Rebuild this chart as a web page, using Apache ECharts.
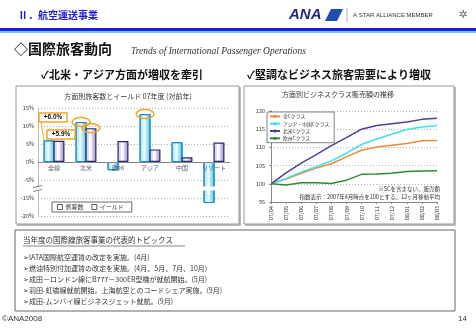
<!DOCTYPE html>
<html>
<head>
<meta charset="utf-8">
<title>国際旅客動向</title>
<script src="https://cdn.jsdelivr.net/npm/echarts@6.0.0/dist/echarts.min.js"></script>
<style>
html, body { margin: 0; padding: 0; background: #fff; }
#main { width: 476px; height: 330px; }
</style>
</head>
<body>
<div id="main"></div>
<script>
// left: 方面別旅客数とイールド 07年度 (対前年, %)
var barCats = ['全線', '北米', '欧州', 'アジア', '中国', 'リゾート'];
var paxGrowth = [6.0, 11.1, -2.3, 13.3, 5.5, -16.4];
var yieldGrowth = [5.9, 9.4, 5.8, 3.5, 1.3, 5.4];

// right: 方面別ビジネスクラス販売額の推移 (2007/04 = 100)
var months = ['07/04', '07/05', '07/06', '07/07', '07/08', '07/09', '07/10', '07/11', '07/12', '08/01', '08/02', '08/03'];
var allC = [100, 101.3, 102.9, 104.3, 105.5, 107.4, 109.2, 110.1, 110.6, 111.1, 111.8, 111.9];
var asiaC = [100, 101.5, 103.2, 104.7, 106.3, 108.4, 110.8, 112.3, 113.6, 114.9, 115.6, 116.0];
var naC = [100, 103.0, 105.7, 108.0, 110.5, 112.7, 115.0, 116.0, 116.5, 117.0, 117.7, 118.0];
var euC = [100, 99.7, 100.3, 100.3, 100.1, 101.0, 102.6, 102.7, 102.9, 103.4, 103.5, 103.6];

var topics = [
    '➢IATA国際航空運賃の改定を実施。(4月)',
    '➢燃油特別付加運賃の改定を実施。(4月、5月、7月、10月)',
    '➢成田－ロンドン線にB777－300ER型機が就航開始。(5月)',
    '➢羽田-虹橋線就航開始。上海航空とのコードシェア実施。(9月)',
    '➢成田-ムンバイ線ビジネスジェット就航。(9月)'
];

var JP = "'Noto Sans CJK JP', sans-serif";

// y axis of the bar chart is broken between -5% and -15%
function brk(v) { return v < -10 ? v + 5 : v; }

var chart = echarts.init(document.getElementById('main'));

function grad(c0, c1, c2) {
    return new echarts.graphic.LinearGradient(0, 0, 1, 0, [
        {offset: 0, color: c0}, {offset: 0.45, color: c1}, {offset: 1, color: c2}
    ]);
}

function txt(x, y, s, font, fill, align) {
    return {type: 'text', x: x, y: y, z: 20, silent: true,
        style: {text: s, font: font, fill: fill || '#222', align: align || 'left', verticalAlign: 'middle'}};
}

var frame = [
    // header
    txt(18, 15, 'Ⅱ．航空運送事業', 'bold 10px ' + JP, '#1a1acc'),
    {type: 'text', x: 289, y: 15, style: {text: 'ANA', font: 'italic bold 15px Arial, sans-serif', fill: '#1c2a80', verticalAlign: 'middle'}},
    {type: 'polygon', shape: {points: [[325, 21], [331, 9], [343, 9], [337, 21]]}, style: {fill: '#1f4db0'}},
    {type: 'line', shape: {x1: 347, y1: 8, x2: 347, y2: 22}, style: {stroke: '#999', lineWidth: 0.8}},
    txt(353, 15, 'A STAR ALLIANCE MEMBER', '6px Arial, sans-serif', '#333'),
    txt(463, 15, '✲', '11px DejaVu Sans', '#666', 'center'),
    {type: 'rect', shape: {x: 0, y: 28, width: 476, height: 3}, style: {fill: '#1d1ddb'}},
    {type: 'rect', shape: {x: 0, y: 31, width: 476, height: 2}, style: {fill: '#6ec8f5'}},
    // title
    txt(14, 49, '◇国際旅客動向', 'bold 14px ' + JP, '#111'),
    txt(131, 51, 'Trends of International Passenger Operations', 'italic 9.5px "Liberation Serif", serif', '#333'),
    txt(41, 75, '✓北米・アジア方面が増収を牽引', 'bold 11px ' + JP, '#111'),
    txt(247, 75, '✓堅調なビジネス旅客需要により増収', 'bold 11px ' + JP, '#111'),
    // chart boxes
    {type: 'rect', z: -1, shape: {x: 17, y: 87, width: 224, height: 139}, style: {fill: '#bbb'}},
    {type: 'rect', z: -1, shape: {x: 16, y: 86, width: 223, height: 138}, style: {fill: '#fff', stroke: '#999', lineWidth: 1}},
    {type: 'rect', z: -1, shape: {x: 245, y: 87, width: 211, height: 139}, style: {fill: '#bbb'}},
    {type: 'rect', z: -1, shape: {x: 244, y: 86, width: 210, height: 138}, style: {fill: '#fff', stroke: '#999', lineWidth: 1}},
    txt(128, 96, '方面別旅客数とイールド 07年度 (対前年)', '7px ' + JP, '#333', 'center'),
    txt(338, 94, '方面別ビジネスクラス販売額の推移', '7px ' + JP, '#333', 'center'),
    txt(440, 189, '※SCを含まない、販売額', '5.5px ' + JP, '#333', 'right'),
    txt(440, 197, '指数表示：2007年4月時点を100とする。12ヶ月移動平均', '5.5px ' + JP, '#333', 'right'),
    // topics box
    {type: 'rect', z: -1, shape: {x: 15, y: 230, width: 440, height: 81}, style: {fill: '#fff', stroke: '#666', lineWidth: 1}},
    txt(23, 240, '当年度の国際線旅客事業の代表的トピックス', '7.5px ' + JP, '#333'),
    {type: 'line', shape: {x1: 23, y1: 246, x2: 185, y2: 246}, style: {stroke: '#333', lineWidth: 0.6}},
    // footer
    txt(2, 319, '©ANA2008', '8px Arial, sans-serif', '#333'),
    txt(458, 319, '14', '8px Arial, sans-serif', '#333')
];
topics.forEach(function (t, i) {
    frame.push(txt(23, 257 + i * 11, t, '7px ' + JP, '#333'));
});

var option = {
    animation: false,
    textStyle: {fontFamily: JP},
    grid: [
        {left: 38, right: 246, top: 108, bottom: 114},
        {left: 271, right: 39, top: 111, bottom: 128}
    ],
    legend: [
        {
            data: ['旅客数', 'イールド'], left: 52, top: 202, orient: 'horizontal',
            icon: 'rect', itemWidth: 5, itemHeight: 5, itemGap: 8,
            padding: [2, 8, 2, 5], borderColor: '#444', borderWidth: 0.8, backgroundColor: '#fff',
            itemStyle: {color: '#fff', borderColor: '#333', borderWidth: 0.8},
            textStyle: {fontSize: 6, color: '#333', padding: [0, 0, 0, -2]}
        },
        {
            data: ['全Cクラス', 'アジア・中国Cクラス', '北米Cクラス', '欧州Cクラス'],
            left: 267, top: 112, orient: 'vertical', itemGap: 2.5, itemWidth: 10, itemHeight: 4,
            padding: [2, 5, 2, 2], borderColor: '#666', borderWidth: 0.8, backgroundColor: '#fff',
            textStyle: {fontSize: 4.8, color: '#333', padding: [0, 0, 0, -2]}
        }
    ],
    xAxis: [
        {
            gridIndex: 0, type: 'category', data: barCats,
            axisLine: {show: false},
            axisTick: {show: false},
            axisLabel: {show: false}
        },
        {
            gridIndex: 1, type: 'category', data: months, boundaryGap: false,
            axisLine: {lineStyle: {color: '#888'}},
            axisTick: {show: true, alignWithLabel: true, length: 2, lineStyle: {color: '#888'}},
            axisLabel: {fontSize: 5.5, color: '#333', rotate: 90, margin: 4, interval: 0}
        }
    ],
    yAxis: [
        {
            gridIndex: 0, type: 'value', min: -15, max: 15, interval: 5,
            axisLine: {show: true, lineStyle: {color: '#bbb'}},
            axisTick: {show: false},
            splitLine: {lineStyle: {color: '#999', type: [1, 2], width: 0.8}},
            axisLabel: {fontSize: 5.5, color: '#333', margin: 4,
                formatter: function (v) { return (v < -5 ? v - 5 : v) + '%'; }}
        },
        {
            gridIndex: 1, type: 'value', min: 95, max: 120, interval: 5,
            axisLine: {show: true, lineStyle: {color: '#888'}},
            axisTick: {show: true, length: 2, lineStyle: {color: '#888'}},
            splitLine: {lineStyle: {color: '#999', type: [1, 2], width: 0.8}},
            axisLabel: {fontSize: 5.5, color: '#333', margin: 6}
        }
    ],
    series: [
        {
            name: '旅客数', type: 'bar', xAxisIndex: 0, yAxisIndex: 0,
            data: paxGrowth.map(brk), barWidth: 11, barGap: '-10%',
            itemStyle: {color: grad('#8fe1f6', '#f2fcff', '#3cc0ec'), borderColor: '#1d8cc6', borderWidth: 1},
            markLine: {silent: true, symbol: 'none', label: {show: false},
                lineStyle: {color: '#888', type: 'solid', width: 1}, data: [{yAxis: 0}]}
        },
        {
            name: 'イールド', type: 'bar', xAxisIndex: 0, yAxisIndex: 0,
            data: yieldGrowth, barWidth: 11,
            itemStyle: {color: grad('#bcb8e0', '#ffffff', '#8a84c2'), borderColor: '#2b2a6b', borderWidth: 1.2}
        },
        {
            // category names sitting on the 0% line, drawn over the bars
            name: 'cat', type: 'scatter', xAxisIndex: 0, yAxisIndex: 0, symbolSize: 0, silent: true,
            z: 10, zlevel: 0,
            data: barCats.map(function (c, i) { return [i, 0]; }),
            label: {show: true, position: 'bottom', distance: 3, fontSize: 6, color: '#333',
                formatter: function (p) { return barCats[p.dataIndex]; }}
        },
        {name: '全Cクラス', type: 'line', xAxisIndex: 1, yAxisIndex: 1, data: allC, symbol: 'none',
            lineStyle: {color: '#f08a3a', width: 1.5}, itemStyle: {color: '#f08a3a'}},
        {name: 'アジア・中国Cクラス', type: 'line', xAxisIndex: 1, yAxisIndex: 1, data: asiaC, symbol: 'none',
            lineStyle: {color: '#3fe0ee', width: 1.5}, itemStyle: {color: '#3fe0ee'}},
        {name: '北米Cクラス', type: 'line', xAxisIndex: 1, yAxisIndex: 1, data: naC, symbol: 'none',
            lineStyle: {color: '#4d3f92', width: 1.5}, itemStyle: {color: '#4d3f92'}},
        {name: '欧州Cクラス', type: 'line', xAxisIndex: 1, yAxisIndex: 1, data: euC, symbol: 'none',
            lineStyle: {color: '#2f8a34', width: 1.5}, itemStyle: {color: '#2f8a34'}}
    ],
    graphic: frame
};
chart.setOption(option);

// callouts placed from the bar positions
var off = 4.95;
function barTop(series, i, v) {
    var p = chart.convertToPixel({seriesIndex: series}, [i, v]);
    return [p[0] + (series === 0 ? -off : off), p[1]];
}
var orange = '#f5a623';
var extra = [];
[[0, 1, paxGrowth[1]], [1, 1, yieldGrowth[1]], [0, 3, paxGrowth[3]]].forEach(function (a) {
    var p = barTop(a[0], a[1], a[2]);
    extra.push({type: 'ellipse', z: 30, shape: {cx: p[0], cy: p[1], rx: 9, ry: 4.5},
        style: {fill: 'none', stroke: orange, lineWidth: 1.5}});
});
var p0 = barTop(0, 0, paxGrowth[0]);
extra.push(
    {type: 'line', z: 29, shape: {x1: 41, y1: 122, x2: p0[0] - 5, y2: p0[1]}, style: {stroke: orange, lineWidth: 1}},
    {type: 'rect', z: 30, shape: {x: 39, y: 113, width: 28, height: 9}, style: {fill: '#fff', stroke: orange, lineWidth: 1.5}},
    txt(53, 117.5, '+6.0%', 'bold 6.5px Arial, sans-serif', '#111', 'center'),
    {type: 'rect', z: 30, shape: {x: 47, y: 130, width: 28, height: 9}, style: {fill: '#fff', stroke: orange, lineWidth: 1.5}},
    txt(61, 134.5, '+5.9%', 'bold 6.5px Arial, sans-serif', '#111', 'center')
);
extra[extra.length - 1].z = 31;
extra[extra.length - 3].z = 31;

// axis break marks
var yb1 = chart.convertToPixel({yAxisIndex: 0}, -6.8);
var yb2 = chart.convertToPixel({yAxisIndex: 0}, -7.9);
var pr = barTop(0, 5, -7);
extra.push(
    {type: 'rect', z: 25, shape: {x: pr[0] - 7, y: yb1, width: 14, height: yb2 - yb1}, style: {fill: '#fff'}},
    {type: 'rect', z: 25, shape: {x: 34, y: yb1, width: 8, height: yb2 - yb1}, style: {fill: '#fff'}},
    {type: 'line', z: 26, shape: {x1: 33, y1: yb1 + 1, x2: 42, y2: yb1 - 1}, style: {stroke: '#666', lineWidth: 0.8}},
    {type: 'line', z: 26, shape: {x1: 33, y1: yb2 + 1, x2: 42, y2: yb2 - 1}, style: {stroke: '#666', lineWidth: 0.8}}
);

chart.setOption({graphic: frame.concat(extra)});
</script>
</body>
</html>
